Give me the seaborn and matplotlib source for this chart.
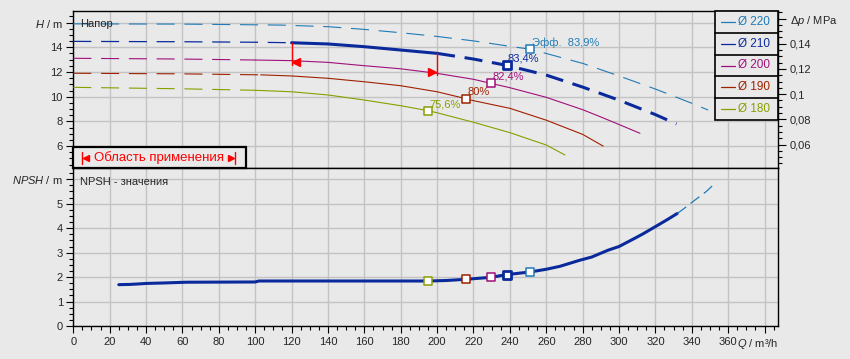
import matplotlib
matplotlib.use("Agg")
import numpy as np
import pandas as pd
import matplotlib.pyplot as plt
from matplotlib.ticker import MultipleLocator, FixedLocator, FuncFormatter
from matplotlib.transforms import Affine2D
from matplotlib.patches import Rectangle
from matplotlib.lines import Line2D
import seaborn as sns

# --- pump curves H(Q) ---
q_220 = [0, 60, 114, 140, 160, 180, 200, 220, 240, 251.2, 260, 280, 300, 320, 340, 349]
h_220 = [15.9, 15.88, 15.8, 15.67, 15.45, 15.18, 14.88, 14.52, 14.08, 13.84, 13.5, 12.7, 11.68, 10.62, 9.47, 8.92]

q_210 = [0, 60, 100, 120, 140, 160, 180, 200, 220, 238.2, 260, 280, 300, 320, 331.6]
h_210 = [14.48, 14.45, 14.41, 14.37, 14.27, 14.05, 13.78, 13.51, 13.05, 12.54, 11.75, 10.78, 9.72, 8.55, 7.79]

q_200 = [0, 60, 100, 120, 140, 160, 180, 200, 220, 229.6, 240, 260, 280, 290, 300, 311.5]
h_200 = [13.11, 13.05, 12.97, 12.92, 12.78, 12.51, 12.26, 11.89, 11.41, 11.08, 10.73, 9.95, 8.95, 8.36, 7.75, 7.04]

q_190 = [0, 60, 103, 120, 140, 160, 180, 200, 215.8, 220, 240, 260, 280, 291.3]
h_190 = [11.9, 11.85, 11.77, 11.68, 11.49, 11.21, 10.89, 10.4, 9.84, 9.68, 9.06, 8.1, 6.95, 6.0]

q_180 = [0, 60, 100, 120, 140, 160, 180, 195, 200, 220, 240, 260, 270.3]
h_180 = [10.76, 10.64, 10.52, 10.4, 10.14, 9.73, 9.27, 8.87, 8.7, 7.93, 7.09, 6.09, 5.28]

# NPSH curve
q_npsh = [25, 31, 36, 40, 50, 62, 100, 102, 150, 195, 205, 216, 229.5, 238.2, 251.2, 260, 267.5,
          278.5, 285, 294, 300, 309, 313, 322, 327, 332, 335, 340, 348, 352]
npsh = [1.69, 1.7, 1.72, 1.74, 1.76, 1.79, 1.8, 1.84, 1.84, 1.84, 1.86, 1.91, 1.99, 2.1, 2.21, 2.32, 2.44,
        2.69, 2.82, 3.1, 3.25, 3.6, 3.76, 4.15, 4.37, 4.6, 4.76, 5.05, 5.5, 5.78]

# best-efficiency points
diameters = ["Ø 220", "Ø 210", "Ø 200", "Ø 190", "Ø 180"]
colors = ["#1f7ab5", "#0a2a9c", "#a0107a", "#a02000", "#8a9e00"]
eff_q = [251.2, 238.2, 229.6, 215.8, 195]
eff_h = [13.84, 12.54, 11.08, 9.84, 8.87]
eff_npsh = [2.21, 2.1, 1.99, 1.91, 1.84]
eff_labels = ["Эфф.  83,9%", "83,4%", "82,4%", "80%", "75,6%"]

# operating range markers
range_q = [120, 200]
range_top = [14.37, 13.51]
range_bottom = [12.57, 11.76]
arrow_q = [122.5, 197]
arrow_h = [12.83, 12.03]

BG = "#e9e9e9"
GRID = "#c3c3c3"
W, H = 850, 359
RHO_G = 0.0098  # MPa per m

sns.set_theme(style="whitegrid")
plt.rcParams['font.family'] = ['Liberation Sans', 'DejaVu Sans']
plt.rcParams['mathtext.fontset'] = 'custom'
plt.rcParams['mathtext.rm'] = 'Liberation Sans'
plt.rcParams['mathtext.it'] = 'Liberation Sans:italic'
plt.rcParams['lines.scale_dashes'] = False

fig = plt.figure(figsize=(W / 100, H / 100), dpi=100, facecolor=BG)
px = Affine2D().scale(1 / W, -1 / H).translate(0, 1) + fig.transFigure


def box(x0, y0, x1, y1):
    return [x0 / W, 1 - y1 / H, (x1 - x0) / W, (y1 - y0) / H]


ax_h = fig.add_axes(box(73.3, 11, 778, 168))
ax_n = fig.add_axes(box(73.3, 168, 778, 326), sharex=ax_h)

DASH = (0, (13, 7))


def segment(ax, q, h, lo, hi, color, lw, ls='-'):
    df = pd.DataFrame({'Q': q, 'H': h})
    part = df[(df.Q >= lo) & (df.Q <= hi)]
    sns.lineplot(data=part, x='Q', y='H', ax=ax, color=color, lw=lw,
                 linestyle=ls, errorbar=None, zorder=3)


# head curves
segment(ax_h, q_220, h_220, 0, 400, colors[0], 0.8, DASH)
segment(ax_h, q_210, h_210, 0, 120, colors[1], 0.9, DASH)
segment(ax_h, q_210, h_210, 120, 200, colors[1], 2.2)
segment(ax_h, q_210, h_210, 200, 400, colors[1], 2.2, DASH)
segment(ax_h, q_200, h_200, 0, 100, colors[2], 0.8, DASH)
segment(ax_h, q_200, h_200, 100, 400, colors[2], 0.8)
segment(ax_h, q_190, h_190, 0, 103, colors[3], 0.8, DASH)
segment(ax_h, q_190, h_190, 103, 400, colors[3], 0.8)
segment(ax_h, q_180, h_180, 0, 100, colors[4], 0.8, DASH)
segment(ax_h, q_180, h_180, 100, 400, colors[4], 0.8)

# operating range
for q, t, b in zip(range_q, range_top, range_bottom):
    ax_h.plot([q, q], [t, b], color='red', lw=1.0, zorder=4)
ax_h.plot(arrow_q[0], arrow_h[0], marker='<', ms=6, color='red', zorder=4)
ax_h.plot(arrow_q[1], arrow_h[1], marker='>', ms=6, color='red', zorder=4)

# NPSH curve
segment(ax_n, q_npsh, npsh, 0, 332, colors[1], 2.2)
segment(ax_n, q_npsh, npsh, 332, 400, colors[0], 0.9, (0, (8, 4)))

# efficiency points
for i, c in enumerate(colors):
    big = i == 1
    for ax, yv in ((ax_h, eff_h[i]), (ax_n, eff_npsh[i])):
        sns.scatterplot(x=[eff_q[i]], y=[yv], ax=ax, marker='s',
                        s=40 if big else 26, color='white', edgecolor=c,
                        linewidth=2.0 if big else 1.1, zorder=5)
    ax_h.annotate(eff_labels[i], (eff_q[i], eff_h[i]), xytext=(1, 1),
                  textcoords='offset points', ha='left', va='bottom',
                  color=c, fontsize=8, zorder=6)

# axes styling
for ax in (ax_h, ax_n):
    ax.set_facecolor(BG)
    ax.set_xlabel('')
    ax.set_ylabel('')
    ax.grid(which='major', color=GRID, lw=1.0)
    ax.grid(which='minor', visible=False)
    for s in ax.spines.values():
        s.set_color('black')
        s.set_linewidth(1.0)

ax_n.set_xlim(0, 387.4)
ax_n.xaxis.set_major_locator(MultipleLocator(20))
ax_n.xaxis.set_minor_locator(MultipleLocator(5))
ax_n.xaxis.set_major_formatter(FuncFormatter(lambda v, p: "" if v > 370 else f"{v:.0f}"))
ax_n.tick_params(axis='x', which='major', bottom=True, direction='out', length=5,
                 width=0.8, color='black', labelsize=8, pad=3)
ax_n.tick_params(axis='x', which='minor', bottom=True, direction='out', length=3,
                 width=0.8, color='black')
ax_h.tick_params(axis='x', which='both', length=0, labelbottom=False)

ax_h.set_ylim(4.227, 16.94)
ax_h.yaxis.set_major_locator(FixedLocator([6, 8, 10, 12, 14, 16]))
ax_h.yaxis.set_minor_locator(MultipleLocator(0.5))
ax_h.yaxis.set_major_formatter(FuncFormatter(lambda v, p: "$H$ / m" if v > 15 else f"{v:.0f}"))

ax_n.set_ylim(0, 6.46)
ax_n.yaxis.set_major_locator(FixedLocator([0, 1, 2, 3, 4, 5, 6]))
ax_n.yaxis.set_minor_locator(MultipleLocator(0.25))
ax_n.yaxis.set_major_formatter(FuncFormatter(lambda v, p: "$NPSH$ / m" if v > 5.5 else f"{v:.0f}"))

for ax in (ax_h, ax_n):
    ax.tick_params(axis='y', which='major', left=True, direction='out', length=5,
                   width=0.8, color='black', labelsize=8, pad=2.5)
    ax.tick_params(axis='y', which='minor', left=True, direction='out', length=3,
                   width=0.8, color='black')

# pressure axis
ax_p = ax_h.twinx()
ax_p.grid(False)
ax_p.set_ylim(4.227 * RHO_G, 16.94 * RHO_G)
ax_p.yaxis.set_major_locator(FixedLocator([0.06, 0.08, 0.1, 0.12, 0.14, 0.16]))
ax_p.yaxis.set_minor_locator(MultipleLocator(0.005))
ax_p.yaxis.set_major_formatter(FuncFormatter(
    lambda v, p: "$Δp$ / MPa" if v > 0.155 else f"{v:.2f}".rstrip('0').replace('.', ',')))
ax_p.tick_params(axis='y', which='major', right=True, direction='out', length=6,
                 width=0.8, color='black', labelsize=8, pad=2.5)
ax_p.tick_params(axis='y', which='minor', right=True, direction='out', length=3,
                 width=0.8, color='black')
for s in ax_p.spines.values():
    s.set_visible(False)

# panel titles
fig.text(80, 24, "Напор", transform=px, fontsize=8, va='center', ha='left', zorder=10)
fig.text(80, 182, "NPSH - значения", transform=px, fontsize=8, va='center', ha='left')
fig.text(778.5, 344, "$Q$ / m³/h", transform=px, fontsize=8, va='center', ha='right')

# operating range box
fig.add_artist(Rectangle((73.3, 146.5), 172.4, 21.5, transform=px, facecolor=BG,
                         edgecolor='black', lw=1.6, zorder=8))
fig.text(159, 157.3, "Область применения", transform=px, fontsize=9.5, color='red',
         ha='center', va='center', zorder=9)
for xb in (82.3, 235.5):
    fig.add_artist(Line2D([xb, xb], [151.5, 163.5], transform=px, color='red', lw=1.0, zorder=9))
fig.add_artist(Line2D([86.5], [157.5], transform=px, marker='<', ms=4.5, color='red', zorder=9))
fig.add_artist(Line2D([231.3], [157.5], transform=px, marker='>', ms=4.5, color='red', zorder=9))

# legend table
lx0, lx1, ly0, row = 715.3, 778, 11, 21.8
fig.add_artist(Rectangle((lx0, ly0), lx1 - lx0, row * 5, transform=px, facecolor=BG,
                         edgecolor='black', lw=1.2, zorder=8))
for i, (name, c) in enumerate(zip(diameters, colors)):
    yc = ly0 + row * (i + 0.5)
    if i:
        fig.add_artist(Line2D([lx0, lx1], [ly0 + row * i] * 2, transform=px,
                              color='black', lw=1.2, zorder=9))
    fig.add_artist(Line2D([721.5, 735], [yc, yc], transform=px, color=c, lw=0.9, zorder=9))
    fig.text(738, yc, name, transform=px, fontsize=8.5, color=c, ha='left', va='center', zorder=9)

fig.savefig("out.png", dpi=100, facecolor=BG)
